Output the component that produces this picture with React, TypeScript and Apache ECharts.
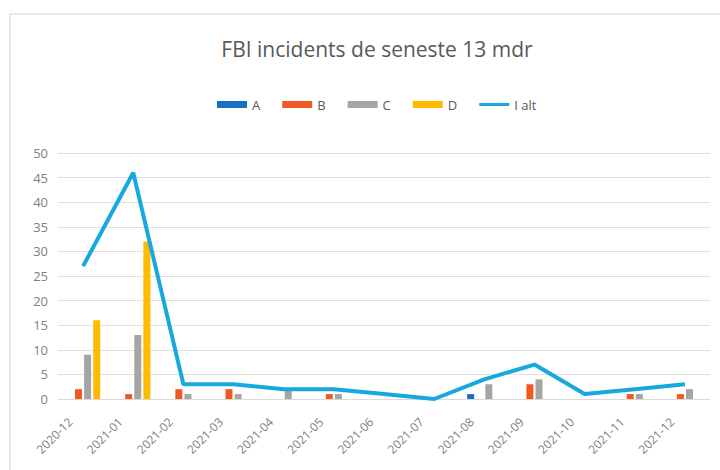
import React, { useEffect, useRef } from "react";
import * as echarts from "echarts";

const categories = [
  "2020-12", "2021-01", "2021-02", "2021-03", "2021-04", "2021-05", "2021-06",
  "2021-07", "2021-08", "2021-09", "2021-10", "2021-11", "2021-12",
];
const seriesA = [0, 0, 0, 0, 0, 0, 0, 0, 1, 0, 0, 0, 0];
const seriesB = [2, 1, 2, 2, 0, 1, 0, 0, 0, 3, 0, 1, 1];
const seriesC = [9, 13, 1, 1, 2, 1, 0, 0, 3, 4, 0, 1, 2];
const seriesD = [16, 32, 0, 0, 0, 0, 0, 0, 0, 0, 0, 0, 0];
const total = [27, 46, 3, 3, 2, 2, 1, 0, 4, 7, 1, 2, 3];
const yTicks = [0, 5, 10, 15, 20, 25, 30, 35, 40, 45, 50];

const FONT = "'Open Sans', 'Noto Sans', sans-serif";

export default function App() {
  const ref = useRef<HTMLDivElement>(null);
  useEffect(() => {
    document.body.style.margin = "0";
    const chart = echarts.init(ref.current!, null, { renderer: "svg" });
    const bar = (name: string, data: number[], color: string) => ({
      name,
      type: "bar",
      data,
      barWidth: 7,
      barGap: "30%",
      itemStyle: { color },
    });
    chart.setOption({
      animation: false,
      backgroundColor: "#ffffff",
      title: {
        text: "FBI incidents de seneste 13 mdr",
        left: 372,
        top: 33,
        textAlign: "center",
        textStyle: { fontFamily: FONT, fontSize: 21, fontWeight: "normal", color: "#595959" },
      },
      legend: {
        top: 93,
        left: 212,
        itemWidth: 30,
        itemHeight: 7,
        itemGap: 22,
        textStyle: { fontFamily: FONT, fontSize: 13, color: "#595959" },
        data: [
          { name: "A", icon: "rect" },
          { name: "B", icon: "rect" },
          { name: "C", icon: "rect" },
          { name: "D", icon: "rect" },
          { name: "I alt", icon: "path://M0,0L30,0L30,3L0,3Z" },
        ],
      },
      graphic: [
        {
          type: "rect",
          shape: { x: 10, y: 14, width: 730, height: 480 },
          style: { fill: "none", stroke: "#e6e2e0", lineWidth: 1.5 },
          silent: true,
        },
      ],
      grid: { left: 58, right: 10, top: 153, bottom: 71, containLabel: false },
      xAxis: {
        type: "category",
        data: categories,
        axisLine: { lineStyle: { color: "#d9d9d9" } },
        axisTick: { show: false },
        axisLabel: {
          rotate: 45,
          fontFamily: FONT,
          fontSize: 12,
          color: "#7f7f7f",
          margin: 8,
          padding: [0, 18, 0, 0],
          interval: 0,
        },
      },
      yAxis: {
        type: "value",
        min: yTicks[0],
        max: yTicks[yTicks.length - 1],
        interval: 5,
        axisLine: { show: false },
        axisTick: { show: false },
        splitLine: { lineStyle: { color: "#e3dfdd", width: 1 } },
        axisLabel: { fontFamily: FONT, fontSize: 13, color: "#7f7f7f", margin: 10 },
      },
      series: [
        bar("A", seriesA, "#1a6fc4"),
        bar("B", seriesB, "#f05a22"),
        bar("C", seriesC, "#a5a5a5"),
        bar("D", seriesD, "#ffbb00"),
        {
          name: "I alt",
          type: "line",
          data: total,
          symbol: "none",
          z: 5,
          lineStyle: { color: "#18a8e0", width: 4 },
          itemStyle: { color: "#18a8e0" },
        },
      ],
    });
    return () => chart.dispose();
  }, []);
  return <div ref={ref} style={{ width: 720, height: 470 }} />;
}
